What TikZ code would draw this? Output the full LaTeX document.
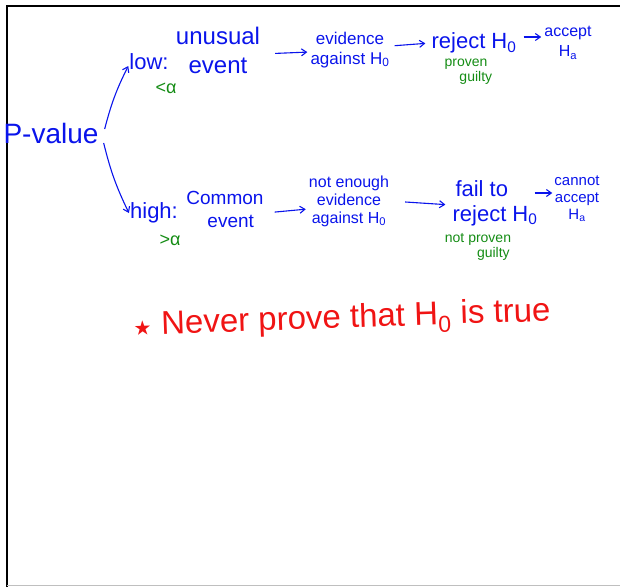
\documentclass[tikz,border=0pt]{standalone}
\usepackage{fontspec}
\setmainfont{Liberation Sans}
\newfontfamily\starfont{DejaVu Sans}
\usetikzlibrary{arrows.meta}
\definecolor{inkblue}{RGB}{10,20,235}
\definecolor{inkgreen}{RGB}{20,140,20}
\definecolor{inkred}{RGB}{240,20,20}
\tikzset{
  hand/.style={inner sep=1pt, text=inkblue, align=center},
  note/.style={inner sep=1pt, text=inkgreen, align=center},
  arr/.style={draw=inkblue, line width=1.1pt, -{Straight Barb[length=5pt,width=7pt]}},
}
\newcommand{\fs}[2]{\fontsize{#1}{#2}\selectfont}

\begin{document}
\begin{tikzpicture}[x=1pt,y=-1pt]
    \useasboundingbox (0,0) rectangle (620,587);
    % frame
    \draw[line width=2.5pt] (7,587) -- (7,6) -- (620,6);
    \draw[gray!50, line width=1pt] (7,585.5) -- (620,585.5);

    % root
    \node[hand, font=\fs{28}{30}] (pv) at (51,133) {P-value};

    % low branch
    \node[hand, font=\fs{22}{26}] (low) at (149,62) {low:};
    \node[hand, font=\fs{24}{29}] (ue) at (218,50) {unusual\\event};
    \node[note, font=\fs{18}{18}] (la) at (166,88) {<α};
    \node[hand, font=\fs{17}{20}] (ev1) at (350,50) {evidence\\against H\textsubscript{0}};
    \node[hand, font=\fs{22}{24}] (rej1) at (474,43) {reject H\textsubscript{0}};
    \node[hand, font=\fs{16}{20}] (acc1) at (568,43) {accept\\H\textsubscript{a}};
    \node[note, font=\fs{14}{15}] (g1) at (466,72) {proven\\\hspace*{1.4em}guilty};

    % high branch
    \node[hand, font=\fs{22}{26}] (high) at (154,213) {high:};
    \node[hand, font=\fs{19}{23}] (ce) at (225,209) {Common\\\hspace*{0.6em}event};
    \node[note, font=\fs{18}{18}] (ha) at (170,240) {>α};
    \node[hand, font=\fs{16}{18}] (ev2) at (349,201) {not enough\\evidence\\against H\textsubscript{0}};
    \node[hand, font=\fs{22}{25}] (rej2) at (495,203) {fail to\hspace*{1.2em}\\reject H\textsubscript{0}};
    \node[hand, font=\fs{15}{17}] (acc2) at (577,199) {cannot\\accept\\H\textsubscript{a}};
    \node[note, font=\fs{14}{15}] (g2) at (478,247) {not proven\\\hspace*{2.2em}guilty};

    % connectors
    \draw[arr] ([xshift=5pt,yshift=4pt]pv.east) to[bend left=6] ([yshift=-4pt]low.west);
    \draw[arr] ([xshift=4pt,yshift=-10pt]pv.east) to[bend right=6] (high.west);
    \draw[arr, shorten <=14pt, shorten >=2pt] ([yshift=-4pt]ue.east) -- ([yshift=-2pt]ev1.west);
    \draw[arr, shorten <=4pt, shorten >=5pt] ([yshift=4pt]ev1.east) -- (rej1.west);
    \draw[arr, shorten <=6pt, shorten >=2pt] ([yshift=6pt]rej1.east) -- ([yshift=6pt]acc1.west);
    \draw[arr, shorten <=10pt, shorten >=2pt] ([yshift=-4pt]ce.east) -- ([yshift=-8pt]ev2.west);
    \draw[arr, shorten <=15pt, shorten >=6pt] (ev2.east) -- ([yshift=-2pt]rej2.west);
    \draw[arr, shorten <=2pt, shorten >=1pt] ([xshift=-6pt,yshift=10pt]rej2.east) -- ([yshift=6pt]acc2.west);

    % remark
    \node[inner sep=1pt, text=inkred, font=\fs{33}{36}, rotate=2] (rem) at (342,320)
      {{\starfont\fs{20}{20}★}\hspace{0.3em}Never prove that H\textsubscript{0} is true};
\end{tikzpicture}
\end{document}
